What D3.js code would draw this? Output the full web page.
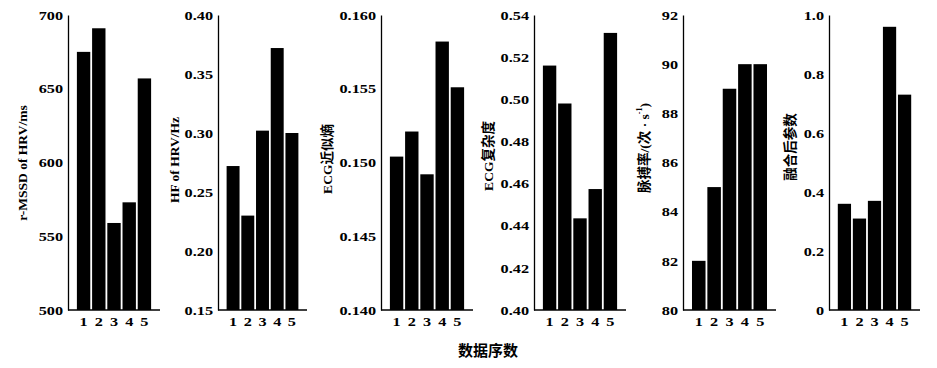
<!DOCTYPE html>
<html><head><meta charset="utf-8">
<script src="https://cdn.jsdelivr.net/npm/d3@7"></script>
<style>
html,body{margin:0;padding:0;background:#fff;}
svg{display:block;}
</style></head>
<body>
<svg id="chart" width="937" height="368"></svg>
<script>
// ---- data ----
const categories = [1, 2, 3, 4, 5];
const rmssd      = [675, 691, 559, 573, 657];
const hfHRV      = [0.272, 0.230, 0.302, 0.372, 0.300];
const ecgApEn    = [0.1504, 0.1521, 0.1492, 0.1582, 0.1551];
const ecgComplex = [0.516, 0.498, 0.4435, 0.4574, 0.5315];
const pulseRate  = [82, 85, 89, 90, 90];
const fusedParam = [0.36, 0.31, 0.37, 0.96, 0.73];

const ticksRmssd   = [500, 550, 600, 650, 700];
const ticksHF      = [0.15, 0.20, 0.25, 0.30, 0.35, 0.40];
const ticksApEn    = [0.140, 0.145, 0.150, 0.155, 0.160];
const ticksComplex = [0.40, 0.42, 0.44, 0.46, 0.48, 0.50, 0.52, 0.54];
const ticksPulse   = [80, 82, 84, 86, 88, 90, 92];
const ticksFused   = [0, 0.2, 0.4, 0.6, 0.8, 1.0];

const titles = ["r-MSSD of HRV/ms", "HF of HRV/Hz", "ECG近似熵", "ECG复杂度", "脉搏率/(次 · s", "融合后参数"];
const xTitle = "数据序数";

// ---- layout ----
const panels = [
  {vals: rmssd,      ticks: ticksRmssd,   fmt: d3.format("d"),    x0: 68,  w: 92, tOff: 46, tY: 163},
  {vals: hfHRV,      ticks: ticksHF,      fmt: d3.format(".2f"),  x0: 218, w: 89, tOff: 44, tY: 160},
  {vals: ecgApEn,    ticks: ticksApEn,    fmt: d3.format(".3f"),  x0: 381, w: 92, tOff: 54, tY: 159},
  {vals: ecgComplex, ticks: ticksComplex, fmt: d3.format(".2f"),  x0: 534, w: 92, tOff: 46, tY: 156},
  {vals: pulseRate,  ticks: ticksPulse,   fmt: d3.format("d"),    x0: 683, w: 93, tOff: 39, tY: 148},
  {vals: fusedParam, ticks: ticksFused,   fmt: d => d === 0 ? "0" : d3.format(".1f")(d), x0: 829, w: 91, tOff: 39, tY: 147}
];
const yTop = 15, yBot = 310;
const SX = 1.25;
const numFont = "'Liberation Serif','Times New Roman',serif";
const titleFont = "'Liberation Serif','Noto Sans CJK SC',serif";

const svg = d3.select("#chart");

panels.forEach((p, i) => {
  const ext = d3.extent(p.ticks);
  const y = d3.scaleLinear().domain(ext).range([yBot, yTop]);
  const x = d3.scaleBand().domain(categories).range([p.x0, p.x0 + p.w]).paddingInner(0.12).paddingOuter(0.585);
  const g = svg.append("g");

  g.selectAll("rect.bar").data(p.vals).join("rect")
    .attr("class", "bar")
    .attr("x", (d, j) => x(categories[j]))
    .attr("width", x.bandwidth())
    .attr("y", d => y(d))
    .attr("height", d => yBot - y(d))
    .attr("fill", "#000");

  const ya = g.append("g").attr("transform", `translate(${p.x0},0)`)
    .call(d3.axisLeft(y).tickValues(p.ticks).tickFormat(p.fmt).tickSize(0).tickPadding(5));
  ya.select(".domain").attr("stroke", "#000").attr("stroke-width", 1.3);
  ya.selectAll("text")
    .attr("font-family", numFont).attr("font-weight", "bold").attr("font-size", 13)
    .attr("fill", "#000")
    .attr("x", -5 / SX)
    .attr("transform", `scale(${SX},1)`);

  const xa = g.append("g").attr("transform", `translate(0,${yBot})`)
    .call(d3.axisBottom(x).tickSize(0).tickPadding(7));
  xa.select(".domain").attr("stroke", "#000").attr("stroke-width", 1.6)
    .attr("d", `M${p.x0},0H${p.x0 + p.w}`);
  xa.selectAll(".tick text")
    .attr("font-family", numFont).attr("font-weight", "bold").attr("font-size", 13)
    .attr("fill", "#000")
    .attr("transform", `scale(${SX},1)`);

  const tt = svg.append("text")
    .attr("transform", `translate(${p.x0 - p.tOff},${p.tY}) rotate(-90)`)
    .attr("text-anchor", "middle")
    .attr("dominant-baseline", "central")
    .attr("font-family", titleFont)
    .attr("font-weight", "bold")
    .attr("font-size", 13.5)
    .attr("fill", "#000")
    .text(titles[i]);
  if (i === 4) {
    tt.append("tspan").attr("font-size", 8).attr("baseline-shift", "super").text("-1");
    tt.append("tspan").text(")");
  }
});

svg.append("text")
  .attr("x", 488).attr("y", 349)
  .attr("text-anchor", "middle")
  .attr("dominant-baseline", "central")
  .attr("font-family", "'Noto Sans CJK SC',sans-serif")
  .attr("font-weight", "bold")
  .attr("font-size", 15)
  .attr("fill", "#000")
  .text(xTitle);
</script>
</body></html>
